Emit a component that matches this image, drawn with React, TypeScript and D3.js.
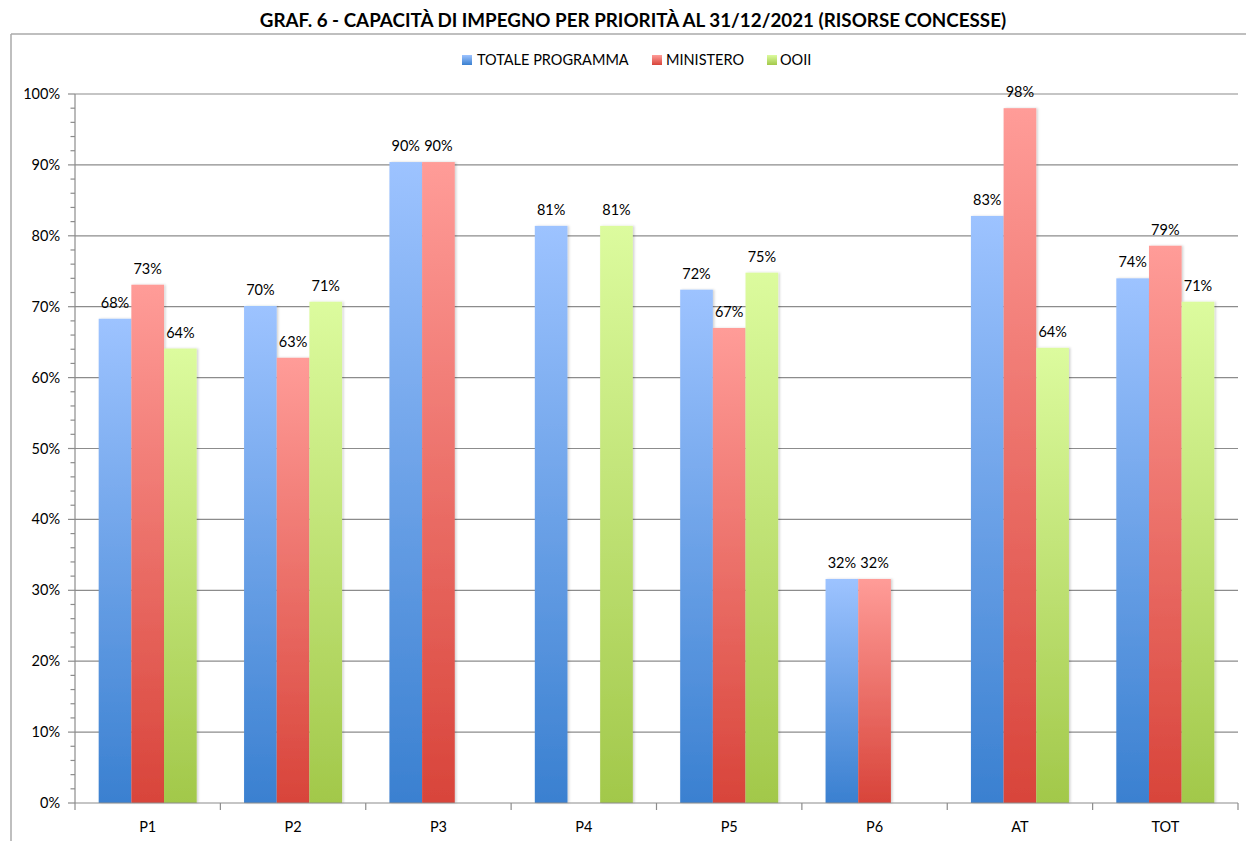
import React from "react";
import * as d3 from "d3";

const categories = ["P1", "P2", "P3", "P4", "P5", "P6", "AT", "TOT"];
const seriesNames = ["TOTALE PROGRAMMA", "MINISTERO", "OOII"];
const totaleProgramma: (number | null)[] = [68.3, 70.1, 90.4, 81.4, 72.4, 31.6, 82.8, 74.0];
const ministero: (number | null)[] = [73.1, 62.8, 90.4, null, 67.0, 31.6, 98.0, 78.6];
const ooii: (number | null)[] = [64.1, 70.7, null, 81.4, 74.8, null, 64.2, 70.7];
const yTicks = [0, 10, 20, 30, 40, 50, 60, 70, 80, 90, 100];
const title = "GRAF. 6 - CAPACITÀ DI IMPEGNO PER PRIORITÀ AL 31/12/2021 (RISORSE CONCESSE)";

const gradients = [
  { id: "gBlue", top: "#9dc3ff", bottom: "#3a80d0" },
  { id: "gRed", top: "#ff9c98", bottom: "#d8443a" },
  { id: "gGreen", top: "#dcfb9e", bottom: "#a2c84a" },
];

export default function App() {
  const W = 1246, H = 841;
  const left = 75, right = 1238, top = 94, bottom = 803;
  const font = "Lato, 'Open Sans', sans-serif";
  const x0 = d3.scaleBand<string>().domain(categories).range([left, right]).paddingInner(0).paddingOuter(0);
  const bw = x0.bandwidth();
  const groupW = bw * (3 / 4.45);
  const x1 = d3.scaleBand<number>().domain([0, 1, 2]).range([0, groupW]);
  const y = d3.scaleLinear().domain([0, 100]).range([bottom, top]);
  const series = [totaleProgramma, ministero, ooii];
  const minor = d3.range(0, 100, 2).filter((v) => v % 10 !== 0);
  const legendItems = [
    { x: 462, textX: 477 },
    { x: 652, textX: 666 },
    { x: 767, textX: 780 },
  ];
  const fs = 14.5;
  return (
    <svg width={W} height={H} style={{ position: "absolute", left: 0, top: 0, background: "#fff" }} fontFamily={font}>
      <defs>
        {gradients.map((g) => (
          <linearGradient key={g.id} id={g.id} x1="0" y1="0" x2="0" y2="1">
            <stop offset="0" stopColor={g.top} />
            <stop offset="1" stopColor={g.bottom} />
          </linearGradient>
        ))}
        <filter id="shadow" x="-20%" y="-5%" width="140%" height="110%">
          <feDropShadow dx="1.5" dy="0" stdDeviation="1.2" floodColor="#000" floodOpacity="0.18" />
        </filter>
      </defs>
      <rect x={0} y={0} width={W} height={H} fill="#fff" />
      {/* outer frame */}
      <line x1={11} x2={W} y1={34} y2={34} stroke="#aaa" strokeWidth={1.5} />
      <line x1={11} x2={11} y1={34} y2={H} stroke="#aaa" strokeWidth={1.5} />
      <text x={633} y={27} textAnchor="middle" fontWeight="bold" fontSize={18.8} fill="#000">{title}</text>
      {/* legend */}
      {seriesNames.map((n, i) => (
        <g key={n}>
          <rect x={legendItems[i].x} y={55} width={10} height={10} fill={`url(#${gradients[i].id})`} />
          <text x={legendItems[i].textX} y={65} fontSize={fs} fill="#000">{n}</text>
        </g>
      ))}
      {/* gridlines */}
      {yTicks.map((t) => (
        <g key={t}>
          {t > 0 && <line x1={left} x2={right} y1={y(t)} y2={y(t)} stroke="#8c8c8c" strokeWidth={1.2} />}
          <line x1={68} x2={left} y1={y(t)} y2={y(t)} stroke="#8c8c8c" strokeWidth={1.2} />
          <text x={60} y={y(t) + 5} textAnchor="end" fontSize={fs} fill="#000">{t}%</text>
        </g>
      ))}
      {minor.map((t) => (
        <line key={t} x1={70.5} x2={left} y1={y(t)} y2={y(t)} stroke="#8c8c8c" strokeWidth={1.2} />
      ))}
      {/* bars */}
      {categories.map((c, ci) => {
        const gx = (x0(c) as number) + (bw - groupW) / 2;
        return (
          <g key={c}>
            {series.map((s, si) => {
              const v = s[ci];
              if (v == null) return null;
              return (
                <rect key={si} x={gx + (x1(si) as number)} y={y(v)} width={x1.bandwidth()} height={bottom - y(v)}
                  fill={`url(#${gradients[si].id})`} filter="url(#shadow)" />
              );
            })}
          </g>
        );
      })}
      {/* axes lines */}
      <line x1={left} x2={left} y1={top} y2={bottom} stroke="#8c8c8c" strokeWidth={1.2} />
      <line x1={left} x2={right} y1={bottom} y2={bottom} stroke="#8c8c8c" strokeWidth={1.2} />
      {d3.range(categories.length + 1).map((i) => {
        const xx = left + i * bw;
        return <line key={i} x1={xx} x2={xx} y1={bottom} y2={bottom + 7} stroke="#8c8c8c" strokeWidth={1.2} />;
      })}
      {categories.map((c) => (
        <text key={c} x={(x0(c) as number) + bw / 2} y={832} textAnchor="middle" fontSize={fs} fill="#000">{c}</text>
      ))}
      {/* value labels */}
      {categories.map((c, ci) => {
        const gx = (x0(c) as number) + (bw - groupW) / 2;
        return series.map((s, si) => {
          const v = s[ci];
          if (v == null) return null;
          return (
            <text key={c + si} x={gx + (x1(si) as number) + x1.bandwidth() / 2} y={y(v) - 11} textAnchor="middle" fontSize={fs} fill="#000">
              {Math.round(v)}%
            </text>
          );
        });
      })}
    </svg>
  );
}
